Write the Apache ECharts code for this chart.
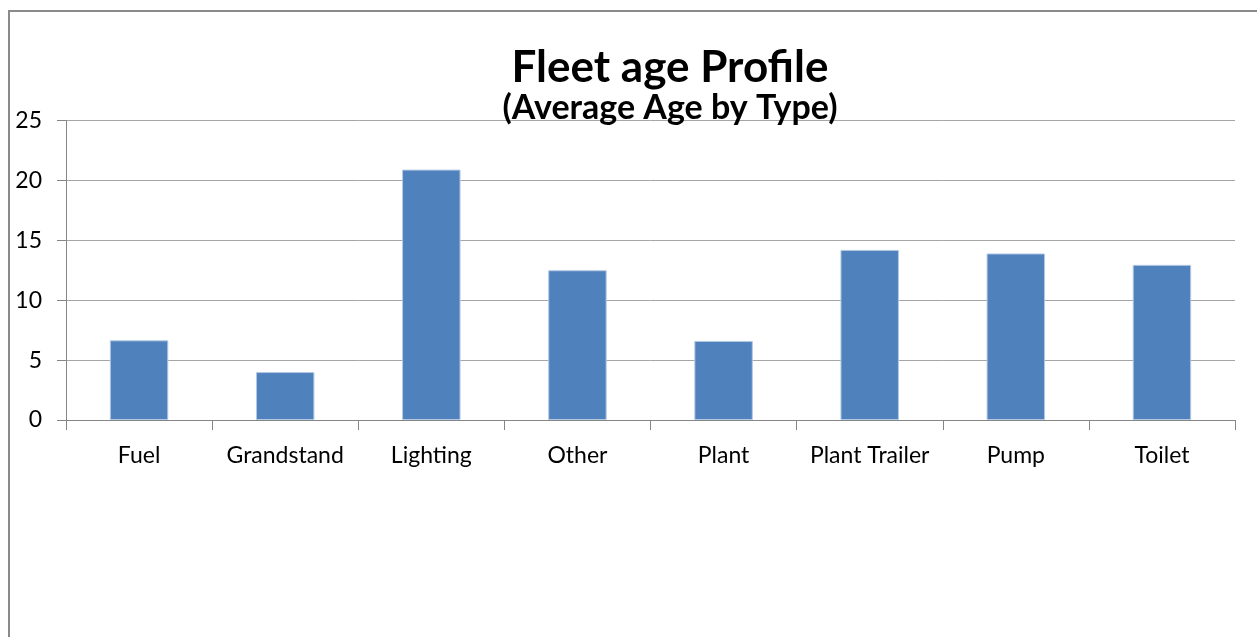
<!DOCTYPE html>
<html>
<head>
<meta charset="utf-8">
<script src="https://cdn.jsdelivr.net/npm/echarts@6/dist/echarts.min.js"></script>
<style>
html,body{margin:0;padding:0;background:#fff;}
#chart{width:1257px;height:637px;}
</style>
</head>
<body>
<div id="chart"></div>
<script>
var categories = ['Fuel', 'Grandstand', 'Lighting', 'Other', 'Plant', 'Plant Trailer', 'Pump', 'Toilet'];
var averageAge = [6.65, 4, 20.9, 12.5, 6.6, 14.2, 13.9, 12.95];
var yTicks = {min: 0, max: 25, interval: 5};
var titleText = 'Fleet age Profile';
var subtitleText = '(Average Age by Type)';

var chart = echarts.init(document.getElementById('chart'));
var font = 'Lato, "Open Sans", sans-serif';
chart.setOption({
  animation: false,
  backgroundColor: '#ffffff',
  graphic: [{
    type: 'rect',
    shape: {x: 9, y: 11, width: 1300, height: 700},
    style: {fill: 'none', stroke: '#8a8a8a', lineWidth: 2},
    z: -1
  }],
  title: [{
    text: titleText,
    left: 665,
    top: 41,
    textAlign: 'center',
    textStyle: {fontFamily: font, fontWeight: 'bold', fontSize: 44, color: '#000'}
  }, {
    text: subtitleText,
    left: 665,
    top: 86,
    textAlign: 'center',
    textStyle: {fontFamily: font, fontWeight: 'bold', fontSize: 34, color: '#000'}
  }],
  grid: {left: 66, right: 22, top: 120.5, bottom: 217, containLabel: false},
  xAxis: {
    type: 'category',
    data: categories,
    axisLine: {lineStyle: {color: '#868686', width: 1}},
    axisTick: {show: true, length: 10, interval: 0, alignWithLabel: false, lineStyle: {color: '#868686'}},
    axisLabel: {color: '#000', fontFamily: font, fontSize: 23, margin: 24, interval: 0}
  },
  yAxis: {
    type: 'value',
    min: yTicks.min,
    max: yTicks.max,
    interval: yTicks.interval,
    axisLine: {show: true, lineStyle: {color: '#868686', width: 1}},
    axisTick: {show: true, length: 9, lineStyle: {color: '#868686'}},
    axisLabel: {color: '#000', fontFamily: font, fontSize: 23, margin: 24},
    splitLine: {lineStyle: {color: '#a6a6a6', width: 1}}
  },
  series: [{
    type: 'bar',
    data: averageAge,
    barWidth: '40%',
    itemStyle: {color: '#4f81bd', borderColor: '#b3c8e3', borderWidth: 1}
  }]
});
</script>
</body>
</html>
